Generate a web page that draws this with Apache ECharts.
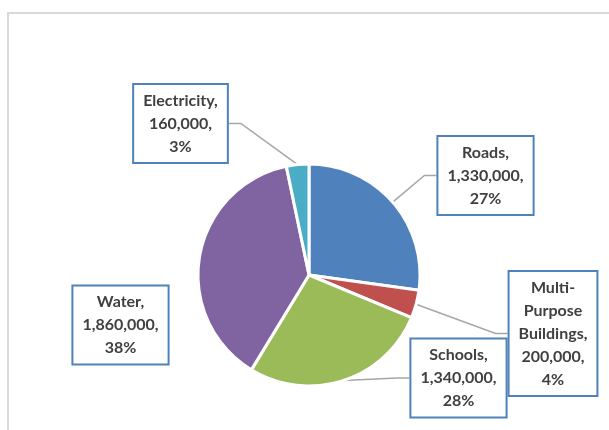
<!DOCTYPE html>
<html>
<head>
<meta charset="utf-8">
<style>
  html, body { margin: 0; padding: 0; background: #fff; }
  #chart { width: 609px; height: 430px; }
</style>
<script src="https://cdn.jsdelivr.net/npm/echarts@6/dist/echarts.min.js"></script>
</head>
<body>
<div id="chart"></div>
<script>
// Budget allocation by category
const categories = ['Roads', 'Multi-Purpose Buildings', 'Schools', 'Water', 'Electricity'];
const amounts = [1330000, 200000, 1340000, 1860000, 160000];
const sliceColors = ['#4F81BD', '#C0504D', '#9BBB59', '#8064A2', '#4BACC6'];
// Label text split into lines for each category box
const labelNames = ['Roads,', 'Multi-\nPurpose\nBuildings,', 'Schools,', 'Water,', 'Electricity,'];

// Label box centres (px) and whether a leader line is drawn
const labelSpots = [
  [485.5, 175.5, true],
  [553, 333.5, true],
  [458.5, 378, true],
  [120.5, 325, false],
  [180.5, 123.5, true]
];

const chart = echarts.init(document.getElementById('chart'), null, { renderer: 'canvas' });

const fmt = v => v.toLocaleString('en-US');

const data = categories.map((name, i) => ({
  name: name,
  value: amounts[i],
  itemStyle: { color: sliceColors[i] },
  labelLine: { show: labelSpots[i][2] }
}));

chart.setOption({
  animation: false,
  backgroundColor: '#ffffff',
  graphic: [{
    type: 'rect',
    shape: { x: 8, y: 13, width: 700, height: 600 },
    style: { fill: 'none', stroke: '#D9D9D9', lineWidth: 2 },
    silent: true
  }],
  series: [{
    type: 'pie',
    center: [309, 275],
    radius: [0, 111],
    startAngle: 90,
    clockwise: true,
    percentPrecision: 0,
    data: data,
    itemStyle: { borderColor: '#ffffff', borderWidth: 3 },
    label: {
      show: true,
      position: 'outside',
      // percentages use largest-remainder rounding so they sum to 100
      formatter: p => labelNames[p.dataIndex] + '\n' + fmt(p.value) + ',\n' + p.percent + '%',
      fontFamily: 'Lato, "Open Sans", sans-serif',
      fontWeight: 'bold',
      fontSize: 16,
      lineHeight: 23,
      color: '#404040',
      align: 'center',
      backgroundColor: '#ffffff',
      borderColor: '#4F81BD',
      borderWidth: 2,
      padding: [4, 9, 4, 9]
    },
    labelLine: {
      show: true,
      length: 15,
      length2: 12,
      lineStyle: { color: '#A6A6A6', width: 1.5 }
    },
    labelLayout: function (params) {
      const s = labelSpots[params.dataIndex];
      return { x: s[0], y: s[1], align: 'center', verticalAlign: 'middle' };
    }
  }]
});
</script>
</body>
</html>
